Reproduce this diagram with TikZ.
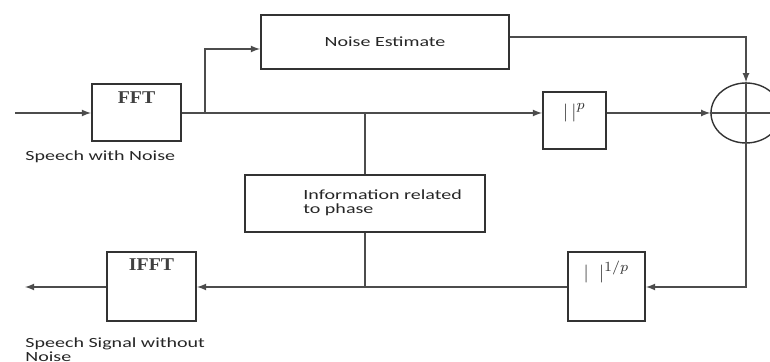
\documentclass[tikz,border=0pt]{standalone}
\usepackage{fontspec}
\setmainfont{Carlito}[FakeStretch=1.43]
\newfontfamily\fftfont{Liberation Serif}[FakeStretch=1.1]
\usetikzlibrary{shapes,arrows,positioning}
\tikzset{
	blk/.style={draw=black!80, line width=1pt, inner sep=0pt, text=black!85, font=\fontsize{7}{7.5}\selectfont},
	wire/.style={draw=black!70, line width=0.6pt},
	fftlbl/.style={font=\fftfont\bfseries\fontsize{9}{10}\selectfont, text=black!75},
	plain/.style={font=\fontsize{7}{7}\selectfont, text=black!85, inner sep=0pt, align=left},
	barlbl/.style={font=\fontsize{9.5}{10}\selectfont, text=black!80}
}
\begin{document}
\begin{tikzpicture}[x=0.5pt,y=-0.5pt,>=latex]
				\useasboundingbox (0,0) rectangle (770,362);
				\clip (0,0) rectangle (770,362);
				\coordinate (In)  at (15,113);
				\coordinate (Out) at (25,287);
				\coordinate (Br)  at (205,113);
				\coordinate (Tap) at (365,113);
				
				% blocks
				\node[blk, minimum width=44.5pt, minimum height=28.5pt, label={[fftlbl,anchor=north,yshift=-0.5pt]north:FFT}] (fft) at (136.5,113) {};
				\node[blk, minimum width=124pt, minimum height=27pt] (noise) at (385,42) {Noise Estimate};
				\node[blk, minimum width=31.5pt, minimum height=28.5pt, label={[barlbl,anchor=north,yshift=-2.7pt]north:$|\,|^{p}$}] (pow) at (574.5,120.5) {};
				\node[draw=black!80, line width=0.7pt, ellipse, minimum width=35pt, minimum height=30pt, inner sep=0pt] (sum) at (746,113) {};
				\node[blk, minimum width=120pt, minimum height=28.5pt] (info) at (365,203.5) {};
				\node[plain, anchor=north west] (infotxt) at (303,189) {Information related\\to phase};
				\node[blk, minimum width=38.5pt, minimum height=34.5pt, label={[barlbl,anchor=north,yshift=-1pt]north:$|\;\;|^{1/p}$}] (inv) at (606.5,287) {};
				\node[blk, minimum width=44.5pt, minimum height=34.5pt, label={[fftlbl,anchor=north]north:IFFT}] (ifft) at (151.5,287) {};
				\node[plain, anchor=west] (inlbl) at (25,157) {Speech with Noise};
				\node[plain, anchor=north west] (outlbl) at (25,337) {Speech Signal without\\Noise};
				
				% signal path
				\draw[wire,-latex] (In) -- (fft.west);
				\draw[wire,-latex] (fft.east) -- (pow.west |- fft.east);
				\draw[wire,-latex] (Br) |- ([yshift=-3.5pt]noise.west);% branch to the estimate
				\draw[wire,-latex] ([yshift=2.5pt]noise.east) -| (sum.north);
				\draw[wire,-latex] (pow.east |- fft.east) -- (sum.west);
				\draw[wire] (sum.west) -- (sum.east) (sum.north) -- (sum.south);
				\draw[wire,-latex] (sum.south) |- (inv.east);
				\draw[wire,-latex] (inv.west) -- (ifft.east);
				\draw[wire,-latex] (ifft.west) -- (Out);
				
				% phase information
				\draw[wire] (Tap) -- (info.north);
				\draw[wire] (info.south) -- (info.south |- ifft.east);
\end{tikzpicture}
\end{document}
